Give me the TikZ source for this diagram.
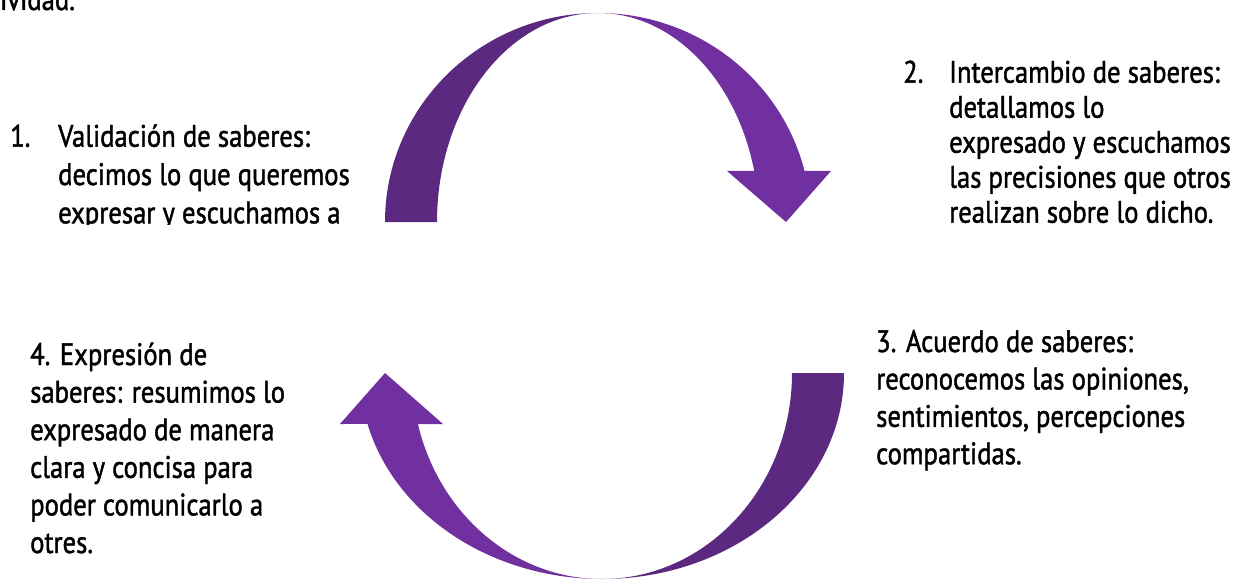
\documentclass[tikz,border=0pt]{standalone}
\usepackage{fontspec}
\setmainfont{PT Sans}[FakeStretch=0.86,FakeBold=1.4]
\definecolor{arcdark}{RGB}{91,41,128}
\definecolor{arclight}{RGB}{112,48,160}
\begin{document}
\begin{tikzpicture}[x=1pt,y=1pt,
  txt/.style={inner sep=0pt, anchor=base west, font=\fontsize{31}{38}\selectfont, text=black},
  darkpart/.style={fill=arcdark, draw=none},
  lightpart/.style={fill=arclight, draw=none}]
\useasboundingbox (0,0) rectangle (1241,582);
% ---- top arrow (centre 598,360)
\fill[darkpart] (385,360) arc[start angle=180, end angle=90, x radius=213, y radius=209]
  arc[start angle=90, end angle=180, x radius=161, y radius=209] -- cycle;
\fill[lightpart] (598,569) arc[start angle=90, end angle=14.13, x radius=213, y radius=209]
  -- (831,411) -- (786,360) -- (727,411)
  -- (754.2,411) arc[start angle=14.13, end angle=90, x radius=161, y radius=209] -- cycle;
% ---- bottom arrow (centre 602,209)
\fill[darkpart] (844,209) arc[start angle=0, end angle=-90, x radius=242, y radius=206]
  arc[start angle=-90, end angle=0, x radius=190, y radius=206] -- cycle;
\fill[lightpart] (602,3) arc[start angle=270, end angle=194.33, x radius=242, y radius=206]
  -- (340,158) -- (385,209) -- (443,158)
  -- (417.9,158) arc[start angle=194.33, end angle=270, x radius=190, y radius=206] -- cycle;
% ---- texts
\begin{scope}
\clip (0,358) rectangle (1241,582);
\node[txt] (top) at (0,572) {ividad.};
\node[txt] (n1) at (10,435.3) {1.};
\node[txt] (t1) at (58,435.3) {\vtop{\baselineskip=38.3pt
  \hbox{Validación de saberes:}\hbox{decimos lo que queremos}\hbox{expresar y escuchamos a}}};
\node[txt] (n2) at (903,499.3) {2.};
\node[txt] (t2) at (949,499.3) {\vtop{\baselineskip=35pt
  \hbox{Intercambio de saberes:}\hbox{detallamos lo}\hbox{expresado y escuchamos}
  \hbox{las precisiones que otros}\hbox{realizan sobre lo dicho.}}};
\end{scope}
\node[txt] (t3) at (876,230) {\vtop{\baselineskip=37.4pt
  \hbox{3. Acuerdo de saberes:}\hbox{reconocemos las opiniones,}
  \hbox{sentimientos, percepciones}\hbox{compartidas.}}};
\node[txt] (t4) at (30,217) {\vtop{\baselineskip=37.6pt
  \hbox{4. Expresión de}\hbox{saberes: resumimos lo}\hbox{expresado de manera}
  \hbox{clara y concisa para}\hbox{poder comunicarlo a}\hbox{otres.}}};
\end{tikzpicture}
\end{document}
